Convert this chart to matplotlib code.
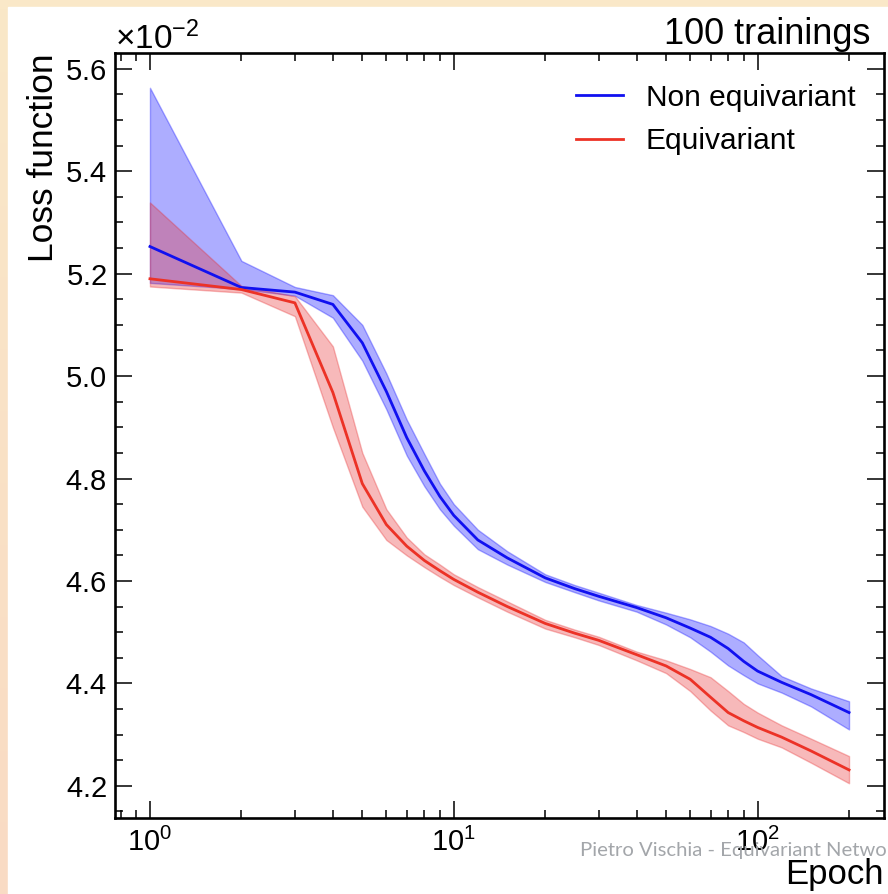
import numpy as np
import matplotlib
matplotlib.use("Agg")
import matplotlib.pyplot as plt
from matplotlib.ticker import MultipleLocator, ScalarFormatter, LogLocator

epochs = [1, 2, 3, 4, 5, 6, 7, 8, 9, 10, 12, 15, 20, 25, 30, 40, 50,
          60, 70, 80, 90, 100, 120, 150, 200]

# loss values in units of 1e-2
noneq_mean = [5.253, 5.173, 5.164, 5.140, 5.065, 4.970, 4.880, 4.815, 4.765,
              4.728, 4.680, 4.645, 4.606, 4.585, 4.570, 4.548, 4.528, 4.508,
              4.490, 4.468, 4.443, 4.424, 4.402, 4.378, 4.343]
noneq_high = [5.563, 5.225, 5.174, 5.158, 5.100, 5.005, 4.915, 4.848, 4.790,
              4.750, 4.700, 4.658, 4.613, 4.592, 4.577, 4.553, 4.538, 4.525,
              4.512, 4.497, 4.480, 4.455, 4.414, 4.390, 4.365]
noneq_low = [5.182, 5.170, 5.157, 5.114, 5.030, 4.935, 4.845, 4.785, 4.740,
             4.708, 4.662, 4.632, 4.598, 4.578, 4.562, 4.540, 4.515, 4.490,
             4.462, 4.435, 4.416, 4.400, 4.382, 4.355, 4.310]

eq_mean = [5.190, 5.169, 5.143, 4.968, 4.790, 4.710, 4.668, 4.640, 4.620,
           4.603, 4.578, 4.550, 4.517, 4.498, 4.484, 4.456, 4.434, 4.408,
           4.373, 4.343, 4.327, 4.314, 4.295, 4.268, 4.231]
eq_high = [5.339, 5.176, 5.156, 5.058, 4.850, 4.740, 4.685, 4.652, 4.632,
           4.613, 4.588, 4.560, 4.524, 4.505, 4.491, 4.462, 4.445, 4.428,
           4.412, 4.385, 4.360, 4.343, 4.318, 4.292, 4.258]
eq_low = [5.175, 5.163, 5.117, 4.900, 4.745, 4.680, 4.650, 4.627, 4.608,
          4.592, 4.568, 4.540, 4.507, 4.490, 4.475, 4.445, 4.420, 4.385,
          4.347, 4.318, 4.305, 4.292, 4.275, 4.245, 4.205]

SCALE = 1e-2

plt.rcParams['font.family'] = ['Liberation Sans', 'DejaVu Sans']
plt.rcParams['mathtext.fontset'] = 'custom'
plt.rcParams['mathtext.rm'] = 'Liberation Sans'
plt.rcParams['mathtext.it'] = 'Liberation Sans:italic'
plt.rcParams['mathtext.bf'] = 'Liberation Sans:bold'

fig = plt.figure(figsize=(8.88, 8.94), dpi=100)

# slide background (beige strips at left and top)
bg = fig.add_axes([0, 0, 1, 1], zorder=-10)
grad = np.linspace(0, 1, 100)[:, None]
top_col = np.array([250, 232, 200]) / 255
bot_col = np.array([249, 219, 196]) / 255
img = top_col[None, None, :] * (1 - grad[:, :, None]) + bot_col[None, None, :] * grad[:, :, None]
bg.imshow(img, aspect='auto', extent=[0, 1, 0, 1])
bg.add_patch(plt.Rectangle((8 / 888, 0), 1, 1 - 7 / 894, color='white'))
bg.set_xlim(0, 1)
bg.set_ylim(0, 1)
bg.axis('off')

ax = fig.add_axes([115 / 888, 1 - 818 / 894, 769 / 888, 765 / 894])

x = np.array(epochs)
ax.fill_between(x, np.array(noneq_low) * SCALE, np.array(noneq_high) * SCALE,
                color='blue', alpha=0.32)
ax.plot(x, np.array(noneq_mean) * SCALE, color='#1010F0', lw=2, label='Non equivariant')
ax.fill_between(x, np.array(eq_low) * SCALE, np.array(eq_high) * SCALE,
                color='#E8282A', alpha=0.32)
ax.plot(x, np.array(eq_mean) * SCALE, color='#EC3226', lw=2, label='Equivariant')

ax.set_xscale('log')
ax.margins(x=0.05, y=0.05)

# y ticks
ax.yaxis.set_major_locator(MultipleLocator(0.002))
ax.yaxis.set_minor_locator(MultipleLocator(0.0005))
fmt = ScalarFormatter(useMathText=True)
fmt.set_powerlimits((-1, 1))
ax.yaxis.set_major_formatter(fmt)
ax.yaxis.get_offset_text().set_fontsize(24)

ax.xaxis.set_major_locator(LogLocator(base=10))
ax.xaxis.set_minor_locator(LogLocator(base=10, subs=np.arange(2, 10)))

ax.tick_params(which='both', direction='in', top=True, right=True, labelsize=21)
ax.tick_params(which='major', length=12, width=1.1)
ax.tick_params(which='minor', length=6, width=1.1)
ax.tick_params(axis='x', which='major', pad=7)
ax.tick_params(axis='y', which='major', pad=6)
for sp in ax.spines.values():
    sp.set_linewidth(1.9)

ax.set_ylabel('Loss function', fontsize=25.5, loc='top', labelpad=4)
ax.set_xlabel('Epoch', fontsize=25, loc='right', labelpad=1)

ax.text(0.982, 1.012, '100 trainings', transform=ax.transAxes,
        ha='right', va='baseline', fontsize=26)

ax.legend(loc='upper right', frameon=False, fontsize=21.5,
          handlelength=1.55, handletextpad=0.78, labelspacing=0.52,
          bbox_to_anchor=(0.998, 0.995))

# footer from the slide
fig.text(580 / 888, 1 - 856 / 894, 'Pietro Vischia - Equivariant Netwo',
         color='#A3A6AA', fontsize=14.6, family=['Lato', 'DejaVu Sans'],
         ha='left', va='baseline')

fig.savefig('out.png', dpi=100)
